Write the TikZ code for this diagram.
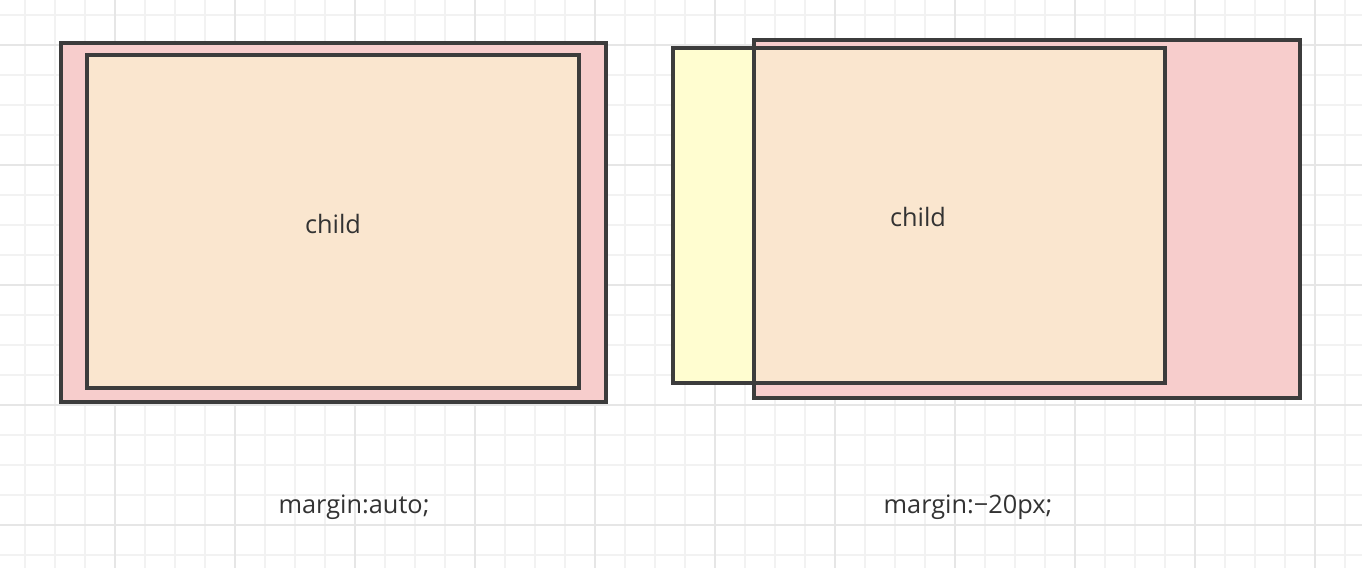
\documentclass[tikz,border=0pt]{standalone}
\usepackage{fontspec}
\setmainfont{Open Sans}
\definecolor{gridminor}{HTML}{F2F2F2}
\definecolor{gridmajor}{HTML}{E6E6E6}
\definecolor{edge}{HTML}{3C3C3C}
\definecolor{pinkfill}{HTML}{F7CDCC}
\definecolor{orangefill}{HTML}{FAE6CF}
\definecolor{yellowfill}{HTML}{FFFDD0}
\definecolor{txt}{HTML}{333333}
\tikzset{
  boxline/.style={draw=edge, line width=2.3pt, line join=miter},
  parentbox/.style={boxline, fill=pinkfill},
  childbox/.style={boxline, fill=orangefill},
  shiftbox/.style={boxline, fill=yellowfill},
  lbl/.style={text=txt, font=\fontsize{19}{22}\selectfont, inner sep=0pt}
}
\begin{document}
\begin{tikzpicture}[x=0.75pt,y=-0.75pt]
\useasboundingbox (0,0) rectangle (1362,568);
\fill[white] (0,0) rectangle (1362,568);
% grid
\foreach \x in {25,55,...,1360} \draw[gridminor, line width=1.2pt] (\x,0) -- (\x,568);
\foreach \y in {15,45,...,568} \draw[gridminor, line width=1.2pt] (0,\y) -- (1362,\y);
\foreach \x in {115,235,...,1360} \draw[gridmajor, line width=1.4pt] (\x,0) -- (\x,568);
\foreach \y in {45,165,...,568} \draw[gridmajor, line width=1.4pt] (0,\y) -- (1362,\y);
% left: margin auto
\draw[parentbox] (61,43) rectangle (606,402);
\draw[childbox] (87,55) rectangle (579,388);
\node[lbl] (childL) at (333,224) {child};
\node[lbl] (capL) at (354,507) {margin:auto;};
% right: negative margin
\draw[shiftbox] (673,48) rectangle (754,383);
\draw[parentbox] (754,40) rectangle (1300,398);
\draw[childbox] (754,48) rectangle (1165,383);
\node[lbl] (childR) at (918,217) {child};
\node[lbl] (capR) at (968,507) {margin:−20px;};
\end{tikzpicture}
\end{document}
